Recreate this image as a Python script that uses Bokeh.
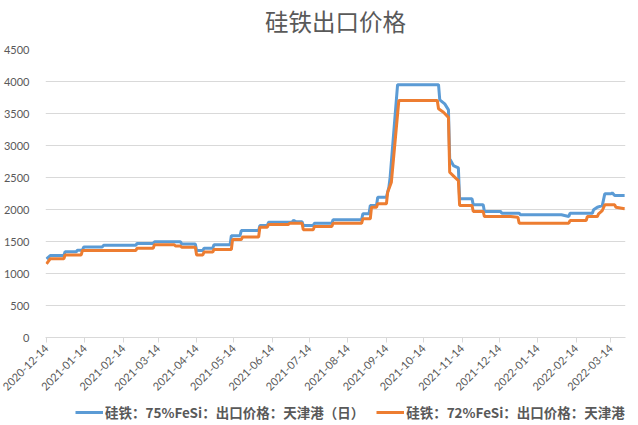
import math
import pandas as pd
from bokeh.plotting import figure
from bokeh.layouts import column
from bokeh.models import Range1d, FixedTicker, DatetimeTickFormatter, Legend, LegendItem, Label
from bokeh.embed import file_html
from bokeh.resources import INLINE

title_text = "硅铁出口价格"
name_75 = "硅铁：75%FeSi：出口价格：天津港（日）"
name_72 = "硅铁：72%FeSi：出口价格：天津港（日）"

dates_75 = ["2020-12-14", "2020-12-17", "2020-12-28", "2020-12-29", "2021-01-07", "2021-01-08",
            "2021-01-12", "2021-01-13", "2021-01-28", "2021-01-29", "2021-02-24", "2021-02-25",
            "2021-03-10", "2021-03-11", "2021-04-01", "2021-04-02", "2021-04-13", "2021-04-14",
            "2021-04-19", "2021-04-20", "2021-04-27", "2021-04-28", "2021-05-11", "2021-05-12",
            "2021-05-19", "2021-05-20", "2021-06-03", "2021-06-04", "2021-06-10", "2021-06-11",
            "2021-06-30", "2021-07-01", "2021-07-03", "2021-07-08", "2021-07-09", "2021-07-17",
            "2021-07-18", "2021-08-01", "2021-08-02", "2021-08-25", "2021-08-26", "2021-08-31",
            "2021-09-01", "2021-09-06", "2021-09-07", "2021-09-14", "2021-09-16", "2021-09-17",
            "2021-09-23", "2021-10-26", "2021-10-27", "2021-10-31", "2021-11-03", "2021-11-04",
            "2021-11-07", "2021-11-11", "2021-11-12", "2021-11-22", "2021-11-23", "2021-12-01",
            "2021-12-02", "2021-12-15", "2021-12-16", "2021-12-30", "2021-12-31", "2022-02-02",
            "2022-02-08", "2022-02-09", "2022-02-27", "2022-02-28", "2022-03-03", "2022-03-07",
            "2022-03-09", "2022-03-14", "2022-03-15", "2022-03-17", "2022-03-25"]
values_75 = [1230, 1280, 1280, 1340, 1340, 1365,
             1365, 1415, 1415, 1440, 1440, 1470,
             1470, 1495, 1495, 1460, 1460, 1360,
             1360, 1395, 1395, 1450, 1450, 1590,
             1590, 1670, 1670, 1750, 1750, 1800,
             1800, 1830, 1810, 1810, 1750, 1750,
             1785, 1785, 1840, 1840, 1933, 1933,
             2062, 2062, 2192, 2192, 2348, 2505,
             3950, 3950, 3714, 3651, 3557, 2792,
             2687, 2650, 2167, 2167, 2073, 2073,
             1969, 1969, 1943, 1943, 1917, 1917,
             1890, 1943, 1943, 1995, 2036, 2060,
             2245, 2245, 2260, 2219, 2219]

dates_72 = ["2020-12-14", "2020-12-17", "2020-12-28", "2020-12-29", "2021-01-11", "2021-01-12",
            "2021-02-24", "2021-02-25", "2021-03-10", "2021-03-11", "2021-03-27", "2021-03-28",
            "2021-04-01", "2021-04-02", "2021-04-13", "2021-04-14", "2021-04-19", "2021-04-20",
            "2021-04-27", "2021-04-28", "2021-05-12", "2021-05-13", "2021-05-20", "2021-05-21",
            "2021-06-03", "2021-06-04", "2021-06-10", "2021-06-11", "2021-06-27", "2021-06-28",
            "2021-07-08", "2021-07-09", "2021-07-17", "2021-07-18", "2021-08-01", "2021-08-02",
            "2021-08-25", "2021-08-26", "2021-09-01", "2021-09-02", "2021-09-06", "2021-09-07",
            "2021-09-14", "2021-09-15", "2021-09-18", "2021-09-24", "2021-10-25", "2021-10-26",
            "2021-10-30", "2021-11-03", "2021-11-04", "2021-11-08", "2021-11-11", "2021-11-12",
            "2021-11-22", "2021-11-23", "2021-12-01", "2021-12-02", "2021-12-23", "2021-12-29",
            "2021-12-30", "2022-02-08", "2022-02-09", "2022-02-22", "2022-02-23", "2022-03-03",
            "2022-03-04", "2022-03-07", "2022-03-09", "2022-03-17", "2022-03-18", "2022-03-25"]
values_72 = [1150, 1230, 1230, 1290, 1290, 1360,
             1360, 1395, 1395, 1450, 1450, 1430,
             1430, 1410, 1410, 1290, 1290, 1335,
             1335, 1375, 1375, 1530, 1530, 1570,
             1570, 1723, 1723, 1766, 1766, 1785,
             1785, 1683, 1683, 1734, 1734, 1785,
             1785, 1855, 1855, 2036, 2036, 2089,
             2089, 2270, 2427, 3703, 3703, 3573,
             3520, 3440, 2583, 2505, 2453, 2062,
             2062, 1969, 1969, 1890, 1890, 1880,
             1786, 1786, 1828, 1828, 1890, 1890,
             1933, 1984, 2073, 2073, 2036, 2011]

x_tick_labels = ["2020-12-14", "2021-01-14", "2021-02-14", "2021-03-14", "2021-04-14",
                 "2021-05-14", "2021-06-14", "2021-07-14", "2021-08-14", "2021-09-14",
                 "2021-10-14", "2021-11-14", "2021-12-14", "2022-01-14", "2022-02-14",
                 "2022-03-14"]
y_ticks = [0, 500, 1000, 1500, 2000, 2500, 3000, 3500, 4000, 4500]

BLUE = "#5B9BD5"
ORANGE = "#ED7D31"
TXT = "#595959"
GRID = "#D9D9D9"

x75 = pd.to_datetime(dates_75)
x72 = pd.to_datetime(dates_72)
xt = pd.to_datetime(x_tick_labels)
tick_ms = [t.value / 1e6 for t in xt]

x_start = pd.Timestamp("2020-12-13 05:00")
x_end = pd.Timestamp("2022-03-25 17:00")


def bare(fig):
    fig.axis.visible = False
    fig.grid.grid_line_color = None
    fig.outline_line_color = None
    fig.background_fill_color = "white"
    fig.border_fill_color = "white"


# --- title strip ---
top = figure(width=638, height=41, output_backend="svg", toolbar_location=None,
             x_range=Range1d(0, 1), y_range=Range1d(0, 1), min_border=0)
bare(top)
top.add_layout(Label(x=0.5, y=0.5, text=title_text, text_align="center", text_baseline="middle",
                     text_font="Noto Sans CJK SC", text_font_size="23.5px", text_color=TXT))

# --- main chart ---
p = figure(width=638, height=359, x_axis_type="datetime", output_backend="svg",
           toolbar_location=None,
           x_range=Range1d(x_start, x_end), y_range=Range1d(0, 4500),
           min_border_left=43, min_border_right=13, min_border_top=8, min_border_bottom=63)
p.outline_line_color = None
p.background_fill_color = "white"
p.border_fill_color = "white"

p.line(x75, values_75, line_color=BLUE, line_width=3)
p.line(x72, values_72, line_color=ORANGE, line_width=3)

p.yaxis.ticker = FixedTicker(ticks=y_ticks)
p.yaxis.axis_line_color = None
p.yaxis.major_tick_line_color = None
p.yaxis.minor_tick_line_color = None
p.yaxis.major_label_text_font = "Lato"
p.yaxis.major_label_text_font_size = "11px"
p.yaxis.major_label_text_color = TXT
p.yaxis.major_label_standoff = 10

p.ygrid.grid_line_color = GRID
p.ygrid.ticker = FixedTicker(ticks=y_ticks)
p.xgrid.grid_line_color = None

p.xaxis.ticker = FixedTicker(ticks=tick_ms)
p.xaxis.formatter = DatetimeTickFormatter(days="%Y-%m-%d", months="%Y-%m-%d", years="%Y-%m-%d",
                                          hours="%Y-%m-%d", minutes="%Y-%m-%d")
p.xaxis.axis_line_color = GRID
p.xaxis.major_tick_line_color = GRID
p.xaxis.major_tick_in = 0
p.xaxis.major_tick_out = 5
p.xaxis.minor_tick_line_color = None
p.xaxis.major_label_orientation = math.pi / 4
p.xaxis.major_label_text_font = "Lato"
p.xaxis.major_label_text_font_size = "11px"
p.xaxis.major_label_text_color = TXT
p.xaxis.major_label_standoff = 4

# --- legend strip (same series, lines fall outside this strip's ranges) ---
leg = figure(width=638, height=25, output_backend="svg", toolbar_location=None,
             x_axis_location=None, y_axis_location=None,
             x_range=Range1d(0, 1), y_range=Range1d(0, 1), min_border=0)
leg.grid.grid_line_color = None
leg.outline_line_color = None
leg.background_fill_color = "white"
leg.border_fill_color = "white"
l75 = leg.line(x75, values_75, line_color=BLUE, line_width=3)
l72 = leg.line(x72, values_72, line_color=ORANGE, line_width=3)
legend = Legend(items=[LegendItem(label=name_75, renderers=[l75]),
                       LegendItem(label=name_72, renderers=[l72])],
                orientation="horizontal", location=(30, 3),
                label_text_font="Noto Sans CJK SC", label_text_font_size="13.5px",
                label_text_font_style="bold", label_text_color=TXT,
                glyph_width=28, glyph_height=14, label_height=14, label_standoff=2, spacing=12,
                border_line_color=None, background_fill_alpha=0, padding=0, margin=0)
leg.add_layout(legend, "center")

page = column(top, p, leg, spacing=0)
open("out.html", "w").write(file_html(page, INLINE))
